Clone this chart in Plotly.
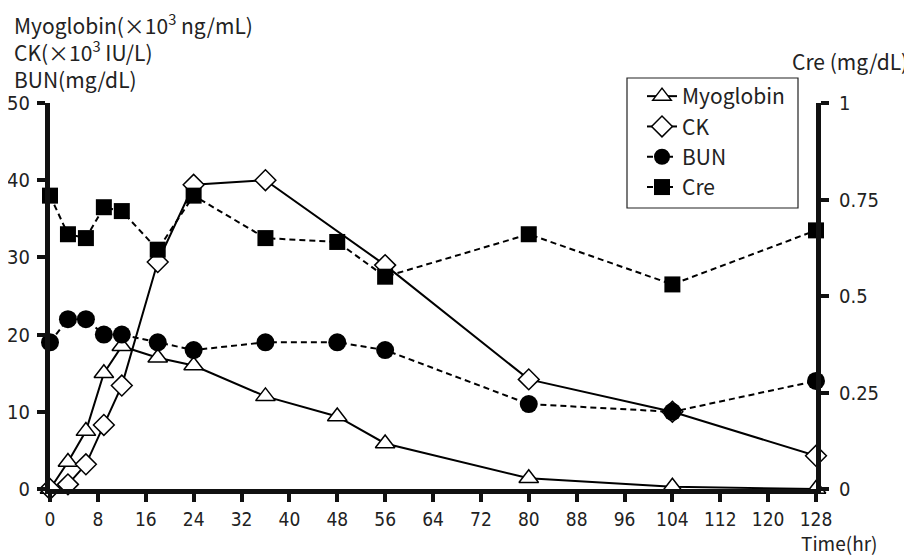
import plotly.graph_objects as go

time_hr = [0, 3, 6, 9, 12, 18, 24, 36, 48, 56, 80, 104, 128]
myoglobin = [0, 3.5, 7.5, 15, 18.5, 17, 16, 12, 9.4, 5.9, 1.4, 0.3, 0]
ck_times = [0, 3, 6, 9, 12, 18, 24, 36, 56, 80, 104, 128]
ck = [0, 0.6, 3.2, 8.3, 13.4, 29.4, 39.4, 40, 29, 14.2, 10, 4.3]
bun = [19, 22, 22, 20, 20, 19, 18, 19, 19, 18, 11, 10, 14]
cre = [0.76, 0.66, 0.65, 0.73, 0.72, 0.62, 0.76, 0.65, 0.64, 0.55, 0.66, 0.53, 0.67]

x_ticks = list(range(0, 129, 8))
left_ticks = [0, 10, 20, 30, 40, 50]
right_ticks = [0, 0.25, 0.5, 0.75, 1]
right_ticktext = ["0", "0.25", "0.5", "0.75", "1"]

TICKFONT = dict(family="Liberation Sans Narrow, DejaVu Sans Condensed, sans-serif", size=20, color="#222")
TEXTFONT = dict(family="Noto Sans CJK JP, sans-serif", size=21, color="#222")

# page body has an 8px margin; all pixel positions below are window pixels
OFF = 8
W, H = 912, 555
L, R, T, B = 50, 816, 103, 489

fig = go.Figure()
fig.add_trace(go.Scatter(
    x=time_hr, y=myoglobin, name="Myoglobin", mode="lines+markers",
    line=dict(color="black", width=2),
    marker=dict(symbol="triangle-up", size=17, color="white", line=dict(color="black", width=1.5)),
    cliponaxis=False))
fig.add_trace(go.Scatter(
    x=ck_times, y=ck, name="CK", mode="lines+markers",
    line=dict(color="black", width=2),
    marker=dict(symbol="diamond", size=16, color="white", line=dict(color="black", width=1.5)),
    cliponaxis=False))
fig.add_trace(go.Scatter(
    x=time_hr, y=bun, name="BUN", mode="lines+markers",
    line=dict(color="black", width=2, dash="6px,4px"),
    marker=dict(symbol="circle", size=18, color="black"),
    cliponaxis=False))
fig.add_trace(go.Scatter(
    x=time_hr, y=cre, name="Cre", mode="lines+markers", yaxis="y2",
    line=dict(color="black", width=2, dash="6px,4px"),
    marker=dict(symbol="square", size=16, color="black"),
    cliponaxis=False))


def px(x):
    return (x - L) / (R - L)


def py(y):
    return (B - y) / (B - T)


def ann(text, x, y, xanchor, size=21, yanchor="middle", align="left"):
    return dict(text=text, x=px(x), y=py(y), xref="paper", yref="paper",
                xanchor=xanchor, yanchor=yanchor, align=align, showarrow=False,
                font=dict(TEXTFONT, size=size))


axis_common = dict(ticks="outside", ticklen=8, tickwidth=4, tickcolor="#111",
                   showline=True, linewidth=5, linecolor="#111", automargin=False,
                   showgrid=False, zeroline=False, tickfont=TICKFONT)

left_title = "Myoglobin(×10<sup>3</sup> ng/mL)<br>CK(×10<sup>3</sup> IU/L)<br>BUN(mg/dL)"

fig.update_layout(
    width=W - OFF, height=H - OFF,
    margin=dict(l=L - OFF, r=W - R, t=T - OFF, b=H - B, pad=0, autoexpand=False),
    plot_bgcolor="white", paper_bgcolor="white",
    showlegend=True,
    legend=dict(x=px(642), y=py(76), xanchor="left", yanchor="top",
                borderwidth=0, bgcolor="rgba(0,0,0,0)",
                font=dict(family="Noto Sans CJK JP, sans-serif", size=21, color="#222"),
                itemwidth=30, tracegroupgap=0),
    xaxis=dict(range=[0, 128], tickvals=x_ticks, ticklabelstandoff=1,
               **dict(axis_common, tickfont=dict(TICKFONT, size=19))),
    yaxis=dict(range=[0, 50], tickvals=left_ticks, ticklabelstandoff=3, **axis_common),
    yaxis2=dict(range=[0, 1], tickvals=right_ticks, ticktext=right_ticktext, overlaying="y",
                side="right", ticklabelstandoff=6, **axis_common),
    shapes=[dict(type="rect", xref="paper", yref="paper",
                 x0=px(627), x1=px(798), y0=py(78), y1=py(208),
                 line=dict(color="#222", width=1.2), fillcolor="rgba(0,0,0,0)")],
    annotations=[
        ann(left_title, 12, 51, "left"),
        ann("Cre (mg/dL)", 910, 61, "right"),
        ann("Time(hr)", 879, 542, "right", size=19),
    ],
)

fig.write_html("out.html")
